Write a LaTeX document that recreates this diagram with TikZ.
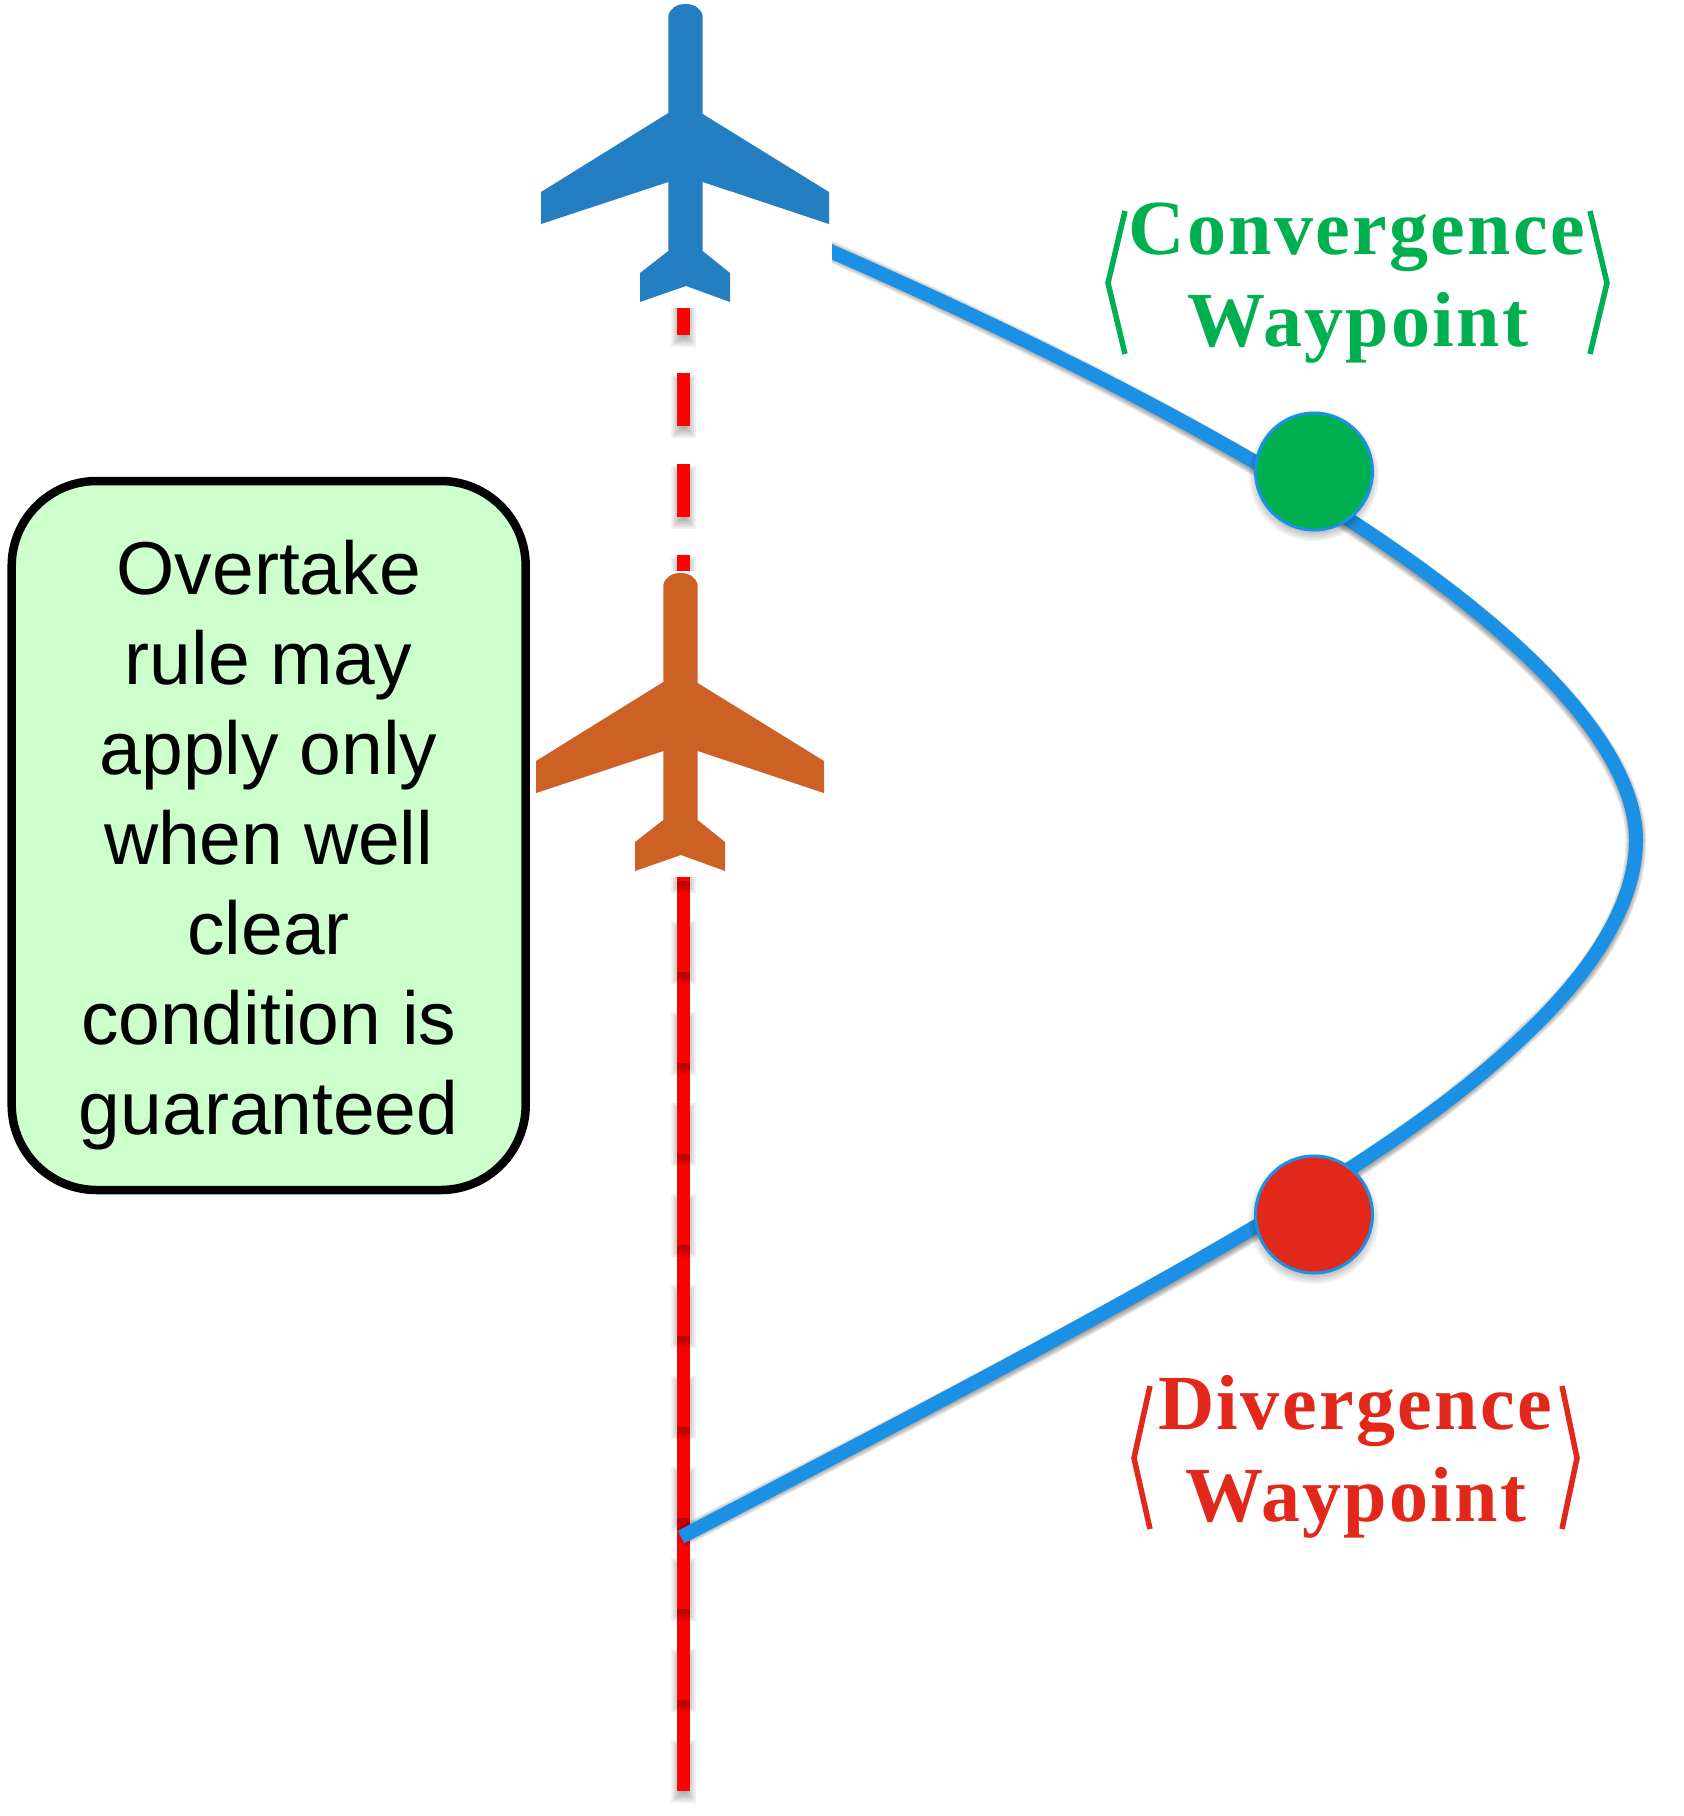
\documentclass[tikz,border=0pt]{standalone}
\usepackage{fontspec}
\setmainfont{Liberation Sans}
\newfontfamily\labfont[LetterSpace=3]{Liberation Serif}
\definecolor{curveblue}{HTML}{1A91E4}
\definecolor{planeblue}{HTML}{247EC2}
\definecolor{planeorange}{HTML}{CD6024}
\definecolor{wpgreen}{HTML}{00B050}
\definecolor{wpred}{HTML}{E2271B}
\definecolor{boxgreen}{HTML}{CCFFCC}
\definecolor{pathred}{HTML}{FF0000}
\newcommand{\curvepath}{(curveA) .. controls (1500,540) and (1636,740) .. (curveB)
  .. controls (1636,905) and (1590,973) .. (curveC)
  .. controls (1400,1155) and (1190,1272) .. (curveD)}
\tikzset{
  x=1pt,y=-1pt,
  planeshape/.pic={
    \fill[pic actions] (668.3,16) .. controls (670,8) and (677,4) .. (685.5,4)
      .. controls (694,4) and (701,8) .. (702.7,16) -- (702.7,114) -- (829,192) -- (829,224) -- (702.7,182)
      -- (702.7,251) -- (730,273) -- (730,302) -- (686,286) -- (640,302) -- (640,273) -- (668.3,251)
      -- (668.3,182) -- (541,224) -- (541,192) -- (668.3,113) -- cycle;
  },
  maskrect/.style={fill=white,draw=none},
  curveline/.style={draw=curveblue,line width=14pt,line join=round},
  labeltext/.style={font=\labfont\fontsize{78}{92}\selectfont\bfseries,align=center,inner sep=0pt},
  bracket/.style={line width=5.5pt,line join=miter},
  waypoint/.style={circle,draw=curveblue,line width=3pt,minimum size=117pt,inner sep=0pt},
}
\begin{document}
\begin{tikzpicture}
\useasboundingbox (0,0) rectangle (1684,1816);
\fill[white] (0,0) rectangle (1684,1816);
% solid lower track
\coordinate (trackA) at (683.3,877);
\coordinate (trackB) at (683.3,1791);
\draw[pathred,line width=13pt] (trackA) -- (trackB);
% dashes with soft shadow
\foreach \k in {-1,...,15}{
  \pgfmathsetmacro{\ye}{426+91*\k}
  \pgfmathsetmacro{\ys}{\ye-53}
  \foreach \e in {-4,-2,0,2,4,6}{
    \fill[black,opacity=0.06] (683.3-6.5-\e,\ys+8-\e) rectangle (683.3+6.5+\e,\ye+6+\e);
  }
  \fill[pathred] (683.3-6.5,\ys) rectangle (683.3+6.5,\ye);
}
% curve shadow and curve
\coordinate (curveA) at (800,238);
\coordinate (curveB) at (1636,840);
\coordinate (curveC) at (1526,1034);
\coordinate (curveD) at (681,1537);
\foreach \e in {-5,-3,-1,1,3,5,7}{
  \draw[black,opacity=0.07,line width=14pt+\e pt,shift={(0,5)}] \curvepath;
}
\draw[curveline] \curvepath;
% white image backgrounds of the aircraft
\fill[maskrect] (536,0) rectangle (832,308);
\fill[maskrect] (532,571) rectangle (828,877);
\pic[fill=planeblue] {planeshape};
\pic[fill=planeorange,shift={(-5,569)}] {planeshape};
% waypoints
\foreach \cy in {471,1214}{
  \foreach \e in {-6,-4,-2,0,2,4,6}{
    \fill[black,opacity=0.05] (1314,\cy+5) circle[radius=59+\e];
  }
}
\node[waypoint,fill=wpgreen] (conv) at (1314,471.5) {};
\node[waypoint,fill=wpred] (div) at (1314,1214.5) {};
% note box
\node[draw=black,fill=boxgreen,line width=8.5pt,rounded corners=85pt,minimum width=514pt,minimum height=709pt,
  inner sep=0pt,align=center,font=\fontsize{75}{90}\selectfont] (note) at (268.7,835.5)
  {\rule{0pt}{73pt}Overtake\\rule may\\apply only\\when well\\clear\\condition is\\guaranteed};
% labels
\node[labeltext,text=wpgreen,anchor=base] (convlab) at (1357,254) {Convergence};
\node[labeltext,text=wpgreen,anchor=base] (convlab2) at (1358,346) {Waypoint};
\node[labeltext,text=wpred,anchor=base] (divlab) at (1355,1429) {Divergence};
\node[labeltext,text=wpred,anchor=base] (divlab2) at (1356,1521) {Waypoint};
\draw[bracket,wpgreen] (1125,211) -- (1108,283) -- (1125,354);
\draw[bracket,wpgreen] (1590,211) -- (1607,283) -- (1590,354);
\draw[bracket,wpred] (1150,1386) -- (1134,1458) -- (1150,1529);
\draw[bracket,wpred] (1562,1386) -- (1577,1458) -- (1562,1529);
\end{tikzpicture}
\end{document}
